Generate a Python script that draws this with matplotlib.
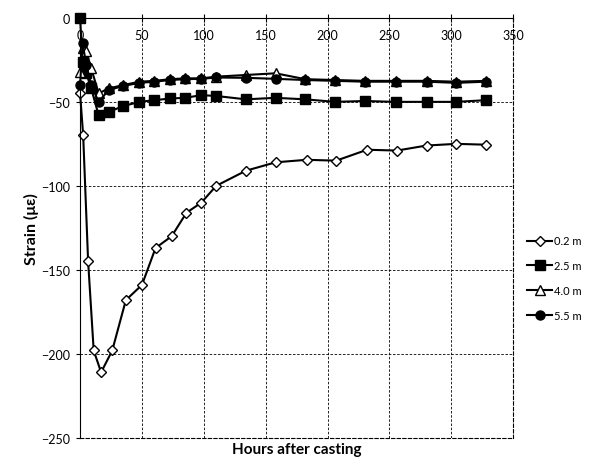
import matplotlib
matplotlib.use("Agg")
import matplotlib.pyplot as plt

# hours after casting
hours_02 = [0, 2.5, 6.5, 11, 17, 26, 37, 50, 61, 74, 86, 98, 110, 134, 158, 183, 207, 232, 256, 280, 304, 328]
hours = [0, 2, 5, 9, 15, 23, 35, 48, 60, 73, 85, 98, 110, 134, 158, 182, 206, 230, 255, 280, 304, 328]

# strain (micro strain)
strain_02 = [-45, -70, -145, -198, -211, -198, -168, -159, -137, -130, -116, -110, -100,
             -91, -86, -84.5, -85, -78.5, -79, -76, -75, -75.5]
strain_25 = [0, -26, -33, -42, -58, -56, -52.5, -50, -49, -48, -47.6, -46, -46.5,
             -48.5, -47.6, -48.5, -50, -49.5, -50, -50, -50, -49]
strain_40 = [-32, -18, -20, -30, -45, -42, -40, -38, -37.5, -36.5, -36, -36, -35,
             -34, -33, -36.5, -37, -37.5, -37.5, -37.5, -38, -37.5]
strain_55 = [-40, -15, -28, -40, -50, -43, -40.5, -38.7, -38, -37, -36.5, -36.3, -35.5,
             -35.7, -36.3, -37, -37.5, -38, -38, -38, -38.7, -38]

x_ticks = [0, 50, 100, 150, 200, 250, 300, 350]
y_ticks = [0, -50, -100, -150, -200, -250]

plt.rcParams["font.family"] = ["Lato", "DejaVu Sans"]

fig = plt.figure(figsize=(6.16, 4.60), dpi=100)
ax = fig.add_axes([0.130, 0.046, 0.703, 0.913])

ax.plot(hours_02, strain_02, "k-", lw=1.5, marker="D", ms=5.5, mfc="white", mec="black", mew=1,
        label="0.2 m", clip_on=False)
ax.plot(hours, strain_25, "k-", lw=1.5, marker="s", ms=6.5, mfc="black", mec="black",
        label="2.5 m", clip_on=False)
ax.plot(hours, strain_40, "k-", lw=1.5, marker="^", ms=6.5, mfc="white", mec="black", mew=1,
        label="4.0 m", clip_on=False)
ax.plot(hours, strain_55, "k-", lw=1.5, marker="o", ms=6.5, mfc="black", mec="black",
        label="5.5 m", clip_on=False)

ax.set_xlim(0, 350)
ax.set_ylim(-250, 0)
ax.set_xticks(x_ticks)
ax.set_yticks(y_ticks)
ax.grid(True, color="black", lw=0.6, ls=(0, (3, 2)))

ax.xaxis.tick_top()
ax.tick_params(axis="x", direction="inout", length=6, labelsize=9, pad=-20)
ax.tick_params(axis="y", direction="out", length=3, labelsize=9, pad=4)
for name, spine in ax.spines.items():
    spine.set_linewidth(0.8)
    spine.set_linestyle((0, (1, 1)) if name in ("top", "left") else (0, (3, 2)))

ax.set_ylabel("Strain (\u03bc\u03b5)", fontsize=11.5, fontweight="bold", labelpad=2)
ax.set_xlabel("Hours after casting", fontsize=11, fontweight="bold", labelpad=3)

ax.legend(loc="center left", bbox_to_anchor=(1.01, 0.38), frameon=False, fontsize=8,
          handlelength=2.2, handletextpad=0.2, labelspacing=1.25)

fig.savefig("out.png", dpi=100)
